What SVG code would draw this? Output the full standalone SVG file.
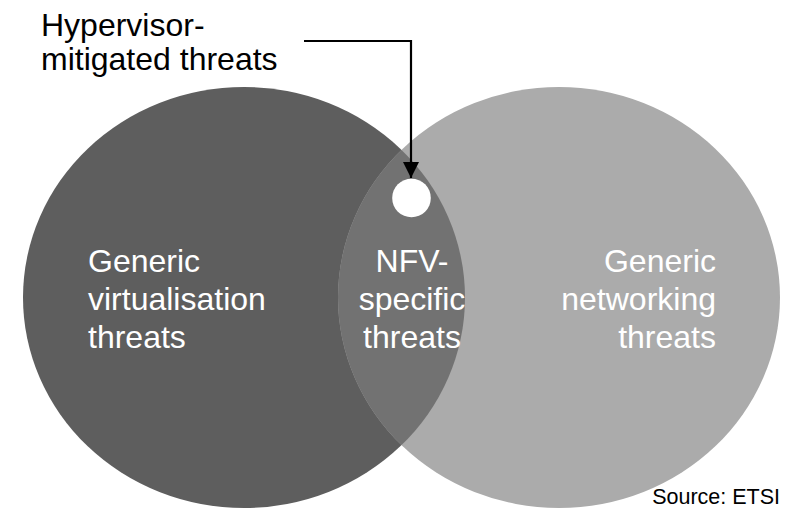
<svg xmlns="http://www.w3.org/2000/svg" width="793" height="509" viewBox="0 0 793 509">
  <style>
    .label { font-family: "Liberation Sans", Arial, sans-serif; font-size: 32px; }
    .inner { fill: #ffffff; }
    .dark { fill: #000000; }
    .source { font-family: "Liberation Sans", Arial, sans-serif; font-size: 21.5px; fill: #000000; }
    .wire { fill: none; stroke: #000000; stroke-width: 2.2; }
  </style>
  <defs>
    <clipPath id="clip-virtualisation">
      <ellipse cx="244" cy="297.5" rx="221" ry="210.5"/>
    </clipPath>
    <marker id="arrowhead" viewBox="0 0 16 16" refX="16" refY="8" markerWidth="16" markerHeight="16" markerUnits="userSpaceOnUse" orient="auto">
      <path d="M0,0 L16,8 L0,16 Z" fill="#000000"/>
    </marker>
  </defs>

  <rect width="793" height="509" fill="#ffffff"/>

  <g id="virtualisation-threats">
    <ellipse cx="244" cy="297.5" rx="221" ry="210.5" fill="#5e5e5e"/>
  </g>

  <g id="networking-threats">
    <ellipse cx="559" cy="297.5" rx="221" ry="210.5" fill="#ababab"/>
  </g>

  <g id="nfv-specific-threats">
    <ellipse cx="559" cy="297.5" rx="221" ry="210.5" fill="#727272" clip-path="url(#clip-virtualisation)"/>
  </g>

  <g id="hypervisor-mitigated">
    <circle cx="411.5" cy="198" r="19.3" fill="#ffffff"/>
  </g>

  <g id="connectors">
    <polyline class="wire" points="304,41 411,41 411,178" marker-end="url(#arrowhead)"/>
  </g>

  <g id="labels">
    <text class="label dark" x="41" y="36">Hypervisor-</text>
    <text class="label dark" x="41" y="70">mitigated threats</text>

    <text class="label inner" x="88" y="272">Generic</text>
    <text class="label inner" x="88" y="310">virtualisation</text>
    <text class="label inner" x="88" y="348">threats</text>

    <text class="label inner" x="412" y="272" text-anchor="middle">NFV-</text>
    <text class="label inner" x="412" y="310" text-anchor="middle">specific</text>
    <text class="label inner" x="412" y="348" text-anchor="middle">threats</text>

    <text class="label inner" x="716" y="272" text-anchor="end">Generic</text>
    <text class="label inner" x="716" y="310" text-anchor="end">networking</text>
    <text class="label inner" x="716" y="348" text-anchor="end">threats</text>

    <text class="source" x="780" y="504" text-anchor="end">Source: ETSI</text>
  </g>
</svg>
